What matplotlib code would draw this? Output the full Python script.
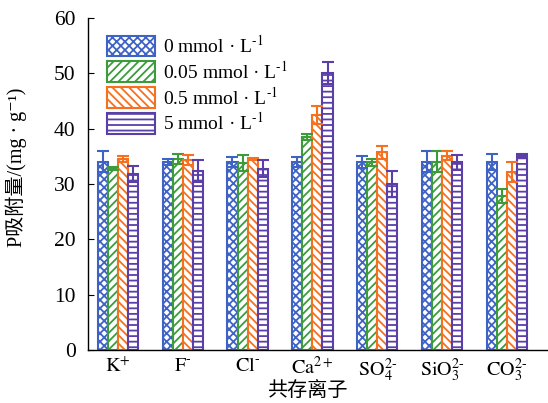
import matplotlib
matplotlib.use("Agg")
import matplotlib.pyplot as plt
import numpy as np

categories = [r"$\mathrm{K^{+}}$", r"$\mathrm{F^{\text{-}}}$", r"$\mathrm{Cl^{\text{-}}}$", r"$\mathrm{Ca^{2+}}$",
              r"$\mathrm{SO_4^{2\text{-}}}$", r"$\mathrm{SiO_3^{2\text{-}}}$", r"$\mathrm{CO_3^{2\text{-}}}$"]
series_names = [r"0 mmol · L$^{\text{-}\mathrm{1}}$", r"0.05 mmol · L$^{\text{-}\mathrm{1}}$",
                r"0.5 mmol · L$^{\text{-}\mathrm{1}}$", r"5 mmol · L$^{\text{-}\mathrm{1}}$"]
v0    = [34.0, 34.0, 33.9, 34.0, 34.0, 34.0, 34.0]
e0    = [1.9, 0.5, 0.9, 0.9, 1.1, 1.9, 1.4]
v005  = [32.8, 34.5, 33.8, 38.5, 33.9, 34.0, 27.8]
e005  = [0.3, 0.9, 1.5, 0.5, 0.7, 1.9, 1.3]
v05   = [34.5, 34.4, 34.5, 42.5, 35.7, 35.1, 32.1]
e05   = [0.6, 0.9, 0.2, 1.6, 1.1, 0.8, 1.8]
v5    = [31.8, 32.4, 32.8, 50.0, 30.0, 33.9, 35.1]
e5    = [1.5, 2.0, 1.5, 2.0, 2.4, 1.4, 0.3]
values = [v0, v005, v05, v5]
errors = [e0, e005, e05, e5]
colors = ["#3f63c4", "#3c9c3c", "#f5701f", "#5a3fa9"]
hatches = ["xxxx", "////", "\\\\\\\\", "---"]

plt.rcParams['font.family'] = ['Liberation Serif', 'Noto Sans CJK SC', 'DejaVu Serif']
plt.rcParams['mathtext.fontset'] = 'stix'
plt.rcParams['hatch.linewidth'] = 1.3

fig = plt.figure(figsize=(5.48, 4.03), dpi=100)
ax = fig.add_axes([0.1606, 0.1315, 0.838, 0.8238])

x = np.arange(len(categories))
w = 0.155
for i in range(4):
    pos = x + (i - 1.5) * w
    ax.bar(pos, values[i], width=w, color="white", edgecolor=colors[i],
           hatch=hatches[i], linewidth=1.5, label=series_names[i])
    ax.errorbar(pos, values[i], yerr=errors[i], fmt="none", ecolor=colors[i],
                elinewidth=1.5, capsize=4, capthick=1.5)

ax.set_xlim(-0.46, 6.62)
ax.set_ylim(0, 60)
ax.set_yticks(range(0, 61, 10))
ax.set_xticks(x)
ax.set_xticklabels(categories, fontsize=14.5)
ax.tick_params(axis='y', direction='in', labelsize=15.5, length=4, pad=9)
ax.tick_params(axis='x', length=0, pad=5)
for s in ["top", "right"]:
    ax.spines[s].set_visible(False)
ax.spines["left"].set_linewidth(1.0)
ax.spines["bottom"].set_linewidth(1.0)

ax.set_xlabel("共存离子", family=['Noto Sans CJK SC'], fontsize=14.5)
ax.xaxis.set_label_coords(0.477, -0.09)
ax.set_ylabel("P吸附量/(mg · g⁻¹)", family=['Liberation Serif', 'Noto Sans CJK SC', 'DejaVu Serif'],
              fontsize=14.5)
ax.yaxis.set_label_coords(-0.133, 0.551)

leg = ax.legend(loc="upper left", bbox_to_anchor=(0.005, 1.0), frameon=False, fontsize=14,
                handlelength=2.5, handleheight=1.25, labelspacing=0.2, handletextpad=0.4,
                borderaxespad=0.45)

fig.savefig("out.png", dpi=100)
